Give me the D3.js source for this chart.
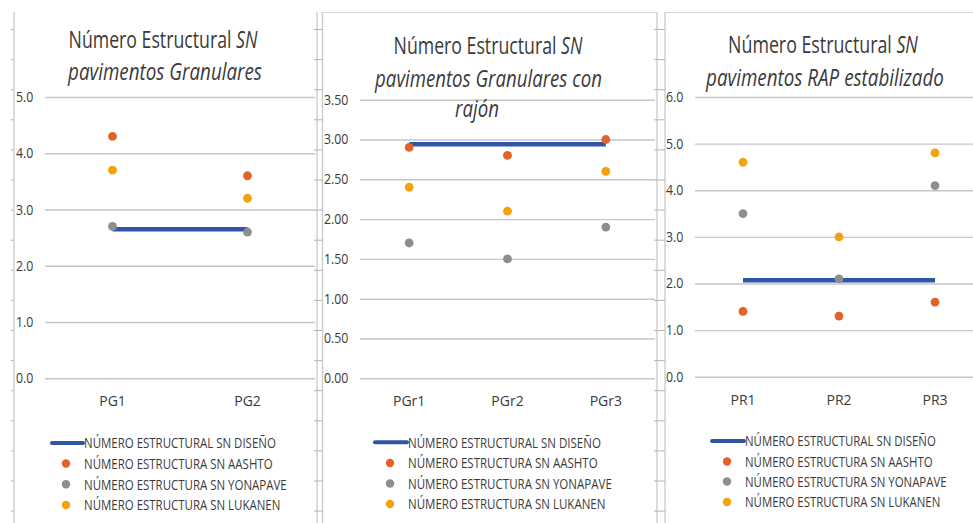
<!DOCTYPE html>
<html>
<head>
<meta charset="utf-8">
<script src="https://cdn.jsdelivr.net/npm/d3@7"></script>
<style>
  html, body { margin: 0; padding: 0; background: #ffffff; }
  svg { display: block; }
  text { font-family: 'Open Sans', 'Noto Sans', 'DejaVu Sans', sans-serif; }
</style>
</head>
<body>
<svg id="chart" width="973" height="523"></svg>
<script>
// ---------------- DATA ----------------
const seriesNames = [
  "NÚMERO ESTRUCTURAL SN DISEÑO",
  "NÚMERO ESTRUCTURA SN AASHTO",
  "NÚMERO ESTRUCTURA SN YONAPAVE",
  "NÚMERO ESTRUCTURA SN LUKANEN"
];

// Chart 1: pavimentos Granulares
const catsG      = ["PG1", "PG2"];
const disenoG    = [2.65, 2.65];
const aashtoG    = [4.3, 3.6];
const yonapaveG  = [2.7, 2.6];
const lukanenG   = [3.7, 3.2];
const ticksG     = [0, 1, 2, 3, 4, 5];

// Chart 2: pavimentos Granulares con rajón
const catsGR     = ["PGr1", "PGr2", "PGr3"];
const disenoGR   = [2.94, 2.94, 2.94];
const aashtoGR   = [2.9, 2.8, 3.0];
const yonapaveGR = [1.7, 1.5, 1.9];
const lukanenGR  = [2.4, 2.1, 2.6];
const ticksGR    = [0, 0.5, 1, 1.5, 2, 2.5, 3, 3.5];

// Chart 3: pavimentos RAP estabilizado
const catsPR     = ["PR1", "PR2", "PR3"];
const disenoPR   = [2.07, 2.07, 2.07];
const aashtoPR   = [1.4, 1.3, 1.6];
const yonapavePR = [3.5, 2.1, 4.1];
const lukanenPR  = [4.6, 3.0, 4.8];
const ticksPR    = [0, 1, 2, 3, 4, 5, 6];

const titleLine1 = "Número Estructural ";
const titleSN = "SN";
const subtitlesG  = ["pavimentos Granulares"];
const subtitlesGR = ["pavimentos Granulares con", "rajón"];
const subtitlesPR = ["pavimentos RAP estabilizado"];

// ---------------- STYLE ----------------
const colors = { diseno: "#2F55A4", aashto: "#E2622A", yonapave: "#8E8E8E", lukanen: "#F4A20C" };
const gridColor = "#c6c6c6";
const rulerColor = "#c9c9c9";
const textColor = "#3a3a3a";

const svg = d3.select("#chart");

// ---------------- PANELS (layout) ----------------
const panels = [
  {
    cats: catsG, diseno: disenoG, aashto: aashtoG, yonapave: yonapaveG, lukanen: lukanenG,
    ticks: ticksG, fmt: d3.format(".1f"), yMax: 5,
    x0: 45, x1: 315, yTop: 97, yBot: 378.3, labelX: 16,
    titles: [{ cx: 163, y: 48, w: 189 }, { cx: 165, y: 80, w: 194 }], subtitles: subtitlesG,
    legend: { lx0: 52, lx1: 83, tx: 84, mx: 66, rows: [443, 463.5, 484.3, 505], w: 192 }
  },
  {
    cats: catsGR, diseno: disenoGR, aashto: aashtoGR, yonapave: yonapaveGR, lukanen: lukanenGR,
    ticks: ticksGR, fmt: d3.format(".2f"), yMax: 3.5,
    x0: 360, x1: 655, yTop: 99.7, yBot: 378.3, labelX: 324,
    titles: [{ cx: 488, y: 54, w: 189 }, { cx: 488.5, y: 86.5, w: 227 }, { cx: 477, y: 117 }], subtitles: subtitlesGR,
    legend: { lx0: 375, lx1: 407, tx: 408, mx: 390, rows: [442.3, 463, 483.5, 504], w: 193 }
  },
  {
    cats: catsPR, diseno: disenoPR, aashto: aashtoPR, yonapave: yonapavePR, lukanen: lukanenPR,
    ticks: ticksPR, fmt: d3.format(".1f"), yMax: 6,
    x0: 695, x1: 983, yTop: 97, yBot: 376.7, labelX: 666,
    titles: [{ cx: 823, y: 53, w: 190 }, { cx: 825, y: 86, w: 238 }], subtitles: subtitlesPR,
    legend: { lx0: 712, lx1: 744, tx: 745, mx: 727, rows: [441, 461.5, 481.5, 502], w: 191 }
  }
];

// ---------------- RULER DECORATIONS ----------------
const tickYs = d3.range(29.5, 523, 30.1);
svg.append("line").attr("x1", 14).attr("x2", 14).attr("y1", 12).attr("y2", 523)
  .attr("stroke", rulerColor).attr("stroke-width", 1.3);
svg.append("g").selectAll("line").data(tickYs).enter().append("line")
  .attr("x1", 11).attr("x2", 14).attr("y1", d => d).attr("y2", d => d)
  .attr("stroke", "#b5b5b5").attr("stroke-width", 1);

function doubleRuler(xa, xb, topEnd) {
  svg.append("line").attr("x1", xa).attr("x2", xa).attr("y1", 12).attr("y2", 523)
    .attr("stroke", rulerColor).attr("stroke-width", 1.3);
  svg.append("line").attr("x1", xb).attr("x2", xb).attr("y1", 12).attr("y2", 523)
    .attr("stroke", rulerColor).attr("stroke-width", 1.3);
  svg.append("g").selectAll("line").data(tickYs).enter().append("line")
    .attr("x1", xa - 3).attr("x2", xb).attr("y1", d => d).attr("y2", d => d)
    .attr("stroke", "#b5b5b5").attr("stroke-width", 1);
  svg.append("line").attr("x1", xb).attr("x2", topEnd).attr("y1", 12.5).attr("y2", 12.5)
    .attr("stroke", "#d4d4d4").attr("stroke-width", 1);
}
doubleRuler(317, 322.5, 657);
doubleRuler(657, 665, 973);

// ---------------- DRAW PANELS ----------------
panels.forEach(p => {
  const g = svg.append("g");
  const y = d3.scaleLinear().domain([0, p.yMax]).range([p.yBot, p.yTop]);
  const x = d3.scaleBand().domain(p.cats).range([p.x0, p.x1]).padding(0);
  const cx = d => x(d) + x.bandwidth() / 2;

  // gridlines
  const grid = g.append("g").attr("transform", `translate(${p.x0},0)`)
    .call(d3.axisLeft(y).tickValues(p.ticks).tickSize(-(p.x1 - p.x0)).tickFormat(""));
  grid.select(".domain").remove();
  grid.selectAll("line").attr("stroke", gridColor).attr("stroke-width", 1.4);

  // y labels
  const ya = g.append("g").attr("transform", `translate(${p.labelX},0)`)
    .call(d3.axisRight(y).tickValues(p.ticks).tickSize(0).tickPadding(0).tickFormat(p.fmt));
  ya.select(".domain").remove();
  ya.selectAll("text").attr("fill", textColor).attr("font-size", 14)
    .style("font-family", "'Open Sans', sans-serif").style("font-weight", 500)
    .attr("transform", "scale(0.88,1)").attr("x", 0);

  // x labels
  const xa = g.append("g").attr("transform", `translate(0,${p.yBot})`)
    .call(d3.axisBottom(x).tickSize(0).tickPadding(18));
  xa.select(".domain").remove();
  xa.selectAll("text").attr("fill", textColor).attr("font-size", 14)
    .style("font-family", "'Open Sans', sans-serif").style("font-weight", 500);

  // design line
  const line = d3.line().x((d, i) => cx(p.cats[i])).y(d => y(d));
  g.append("path").datum(p.diseno).attr("d", line)
    .attr("fill", "none").attr("stroke", colors.diseno).attr("stroke-width", 4.5);

  // dots
  [["aashto", p.aashto], ["yonapave", p.yonapave], ["lukanen", p.lukanen]].forEach(([k, vals]) => {
    g.append("g").selectAll("circle").data(vals).enter().append("circle")
      .attr("cx", (d, i) => cx(p.cats[i])).attr("cy", d => y(d)).attr("r", 4.4)
      .attr("fill", colors[k]);
  });

  // titles
  const tg = g.append("g");
  const t1 = tg.append("text").attr("text-anchor", "middle").attr("font-size", 23)
    .style("font-weight", 500).attr("fill", textColor);
  t1.append("tspan").text(titleLine1);
  t1.append("tspan").attr("font-style", "italic").text(titleSN);
  const all = [t1].concat(p.subtitles.map(s => tg.append("text").attr("text-anchor", "middle")
    .attr("font-size", 23).style("font-weight", 500).attr("font-style", "italic")
    .attr("fill", textColor).text(s)));
  let kPrev = 1;
  all.forEach((t, i) => {
    const w = t.node().getComputedTextLength();
    const k = p.titles[i].w ? p.titles[i].w / w : kPrev;
    kPrev = k;
    t.attr("transform", `translate(${p.titles[i].cx},${p.titles[i].y}) scale(${k},1)`);
  });

  // legend
  const lg = g.append("g");
  const L = p.legend;
  lg.append("line").attr("x1", L.lx0).attr("x2", L.lx1).attr("y1", L.rows[0]).attr("y2", L.rows[0])
    .attr("stroke", colors.diseno).attr("stroke-width", 4).attr("stroke-linecap", "round");
  ["aashto", "yonapave", "lukanen"].forEach((kk, i) => {
    lg.append("circle").attr("cx", L.mx).attr("cy", L.rows[i + 1]).attr("r", 4.2).attr("fill", colors[kk]);
  });
  const texts = seriesNames.map(n => lg.append("text").attr("font-size", 14.5)
    .style("font-weight", 500).attr("fill", textColor).attr("dy", "0.36em").text(n));
  const lw = texts[0].node().getComputedTextLength();
  const lk = L.w / lw;
  texts.forEach((t, i) => t.attr("transform", `translate(${L.tx},${L.rows[i]}) scale(${lk},1)`));
});
</script>
</body>
</html>
